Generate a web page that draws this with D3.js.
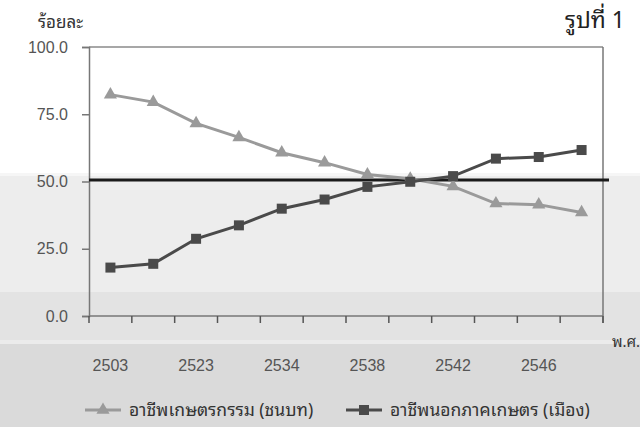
<!DOCTYPE html>
<html><head><meta charset="utf-8">
<script src="https://cdn.jsdelivr.net/npm/d3@7"></script>
<style>
html,body{margin:0;padding:0;background:#fff;}
svg{display:block;}
</style></head>
<body><svg id="c" width="640" height="427"></svg>
<script>
const categories = ["2503","2513","2523","2530","2534","2536","2538","2540","2542","2544","2546","2547"];
const shownLabels = ["2503","2523","2534","2538","2542","2546"];
const agriculture = [82.3, 79.5, 71.6, 66.4, 60.7, 57.0, 52.6, 51.0, 48.2, 41.8, 41.4, 38.5];
const nonAgriculture = [18.0, 19.4, 28.7, 33.7, 39.9, 43.3, 48.0, 49.9, 52.0, 58.5, 59.1, 61.7];
const yTicks = [0, 25, 50, 75, 100];
const refValue = 50;
const seriesNames = ["อาชีพเกษตรกรรม (ชนบท)", "อาชีพนอกภาคเกษตร (เมือง)"];

const svg = d3.select("#c");
const thai = "'Noto Sans Thai Looped','Noto Serif Thai','Noto Sans Thai','Loma','Garuda',sans-serif";
const num = "'Liberation Sans',Arial,sans-serif";

// background bands
const bands = [[0,173,"#ffffff"],[173,176,"#f6f6f6"],[176,292,"#ededed"],[292,340,"#e3e3e3"],[340,344,"#ebebeb"],[344,427,"#dadada"]];
svg.selectAll("rect.bg").data(bands).enter().append("rect")
  .attr("x",0).attr("y",d=>d[0]).attr("width",640).attr("height",d=>d[1]-d[0]).attr("fill",d=>d[2]);

const L=89, R=603, T=47, B=316;
const x = d3.scaleBand().domain(categories).range([L,R]);
const y = d3.scaleLinear().domain([0,100]).range([B,T]);

// frame top & right
svg.append("line").attr("x1",L).attr("x2",R).attr("y1",T).attr("y2",T).attr("stroke","#8a8a8a").attr("stroke-width",1.5);
svg.append("line").attr("x1",R).attr("x2",R).attr("y1",T).attr("y2",B+7).attr("stroke","#777").attr("stroke-width",1.5);

// y axis
const ya = svg.append("g").attr("transform",`translate(${L},0)`)
  .call(d3.axisLeft(y).tickValues(yTicks).tickFormat(d3.format(".1f")).tickSize(7).tickPadding(14));
ya.select(".domain").attr("stroke","#777").attr("stroke-width",1.5);
ya.selectAll(".tick line").attr("stroke","#777").attr("stroke-width",1.5);
ya.selectAll("text").attr("font-family",num).attr("font-size",16).attr("fill","#555");

// x axis ticks between categories
const tickPos = categories.map((c,i)=>L + i*x.step());
tickPos.push(R);
svg.append("line").attr("x1",L).attr("x2",R).attr("y1",B).attr("y2",B).attr("stroke","#777").attr("stroke-width",1.5);
svg.selectAll("line.xt").data(tickPos).enter().append("line")
  .attr("x1",d=>d).attr("x2",d=>d).attr("y1",B).attr("y2",B+7).attr("stroke","#555").attr("stroke-width",1.5);
svg.selectAll("text.xl").data(shownLabels).enter().append("text")
  .attr("x",d=>x(d)+x.bandwidth()/2).attr("y",371).attr("text-anchor","middle")
  .attr("font-family",num).attr("font-size",16).attr("fill","#555").text(d=>d);

// reference 50 line
svg.append("line").attr("x1",L).attr("x2",R+6).attr("y1",y(refValue)-1.5).attr("y2",y(refValue)-1.5)
  .attr("stroke","#1a1a1a").attr("stroke-width",3);

const cx = (d,i)=>x(categories[i])+x.bandwidth()/2;
const line = d3.line().x(cx).y(d=>y(d));

// agriculture series
svg.append("path").datum(agriculture).attr("d",line).attr("fill","none").attr("stroke","#9a9a9a").attr("stroke-width",3);
const tri = d3.symbol().type(d3.symbolTriangle).size(75);
svg.selectAll("path.tri").data(agriculture).enter().append("path")
  .attr("d",tri).attr("transform",(d,i)=>`translate(${cx(d,i)},${y(d)})`).attr("fill","#9a9a9a");

// non-agriculture series
svg.append("path").datum(nonAgriculture).attr("d",line).attr("fill","none").attr("stroke","#4a4a4a").attr("stroke-width",3);
svg.selectAll("rect.sq").data(nonAgriculture).enter().append("rect")
  .attr("x",(d,i)=>cx(d,i)-5).attr("y",d=>y(d)-5).attr("width",10).attr("height",10).attr("fill","#4a4a4a");

// texts
svg.append("text").attr("x",38).attr("y",28).attr("font-family",thai).attr("font-size",17).attr("fill","#333").text("ร้อยละ");
svg.append("text").attr("x",625).attr("y",28).attr("text-anchor","end").attr("font-family",thai).attr("font-size",23).attr("fill","#222").text("รูปที่ 1");
svg.append("text").attr("x",612).attr("y",347).attr("font-family",thai).attr("font-size",15).attr("fill","#333").text("พ.ศ.");

// legend
const lg = [{x:85,tx:129,name:seriesNames[0],col:"#9a9a9a",shape:"tri"},{x:346,tx:390,name:seriesNames[1],col:"#4a4a4a",shape:"sq"}];
lg.forEach(d=>{
  svg.append("line").attr("x1",d.x).attr("x2",d.x+36).attr("y1",410).attr("y2",410).attr("stroke",d.col).attr("stroke-width",3);
  if(d.shape==="tri") svg.append("path").attr("d",tri).attr("transform",`translate(${d.x+18},410)`).attr("fill",d.col);
  else svg.append("rect").attr("x",d.x+13).attr("y",405).attr("width",10).attr("height",10).attr("fill",d.col);
  svg.append("text").attr("x",d.tx).attr("y",416).attr("font-family",thai).attr("font-size",17.5).attr("fill","#333").text(d.name);
});
</script></body></html>
